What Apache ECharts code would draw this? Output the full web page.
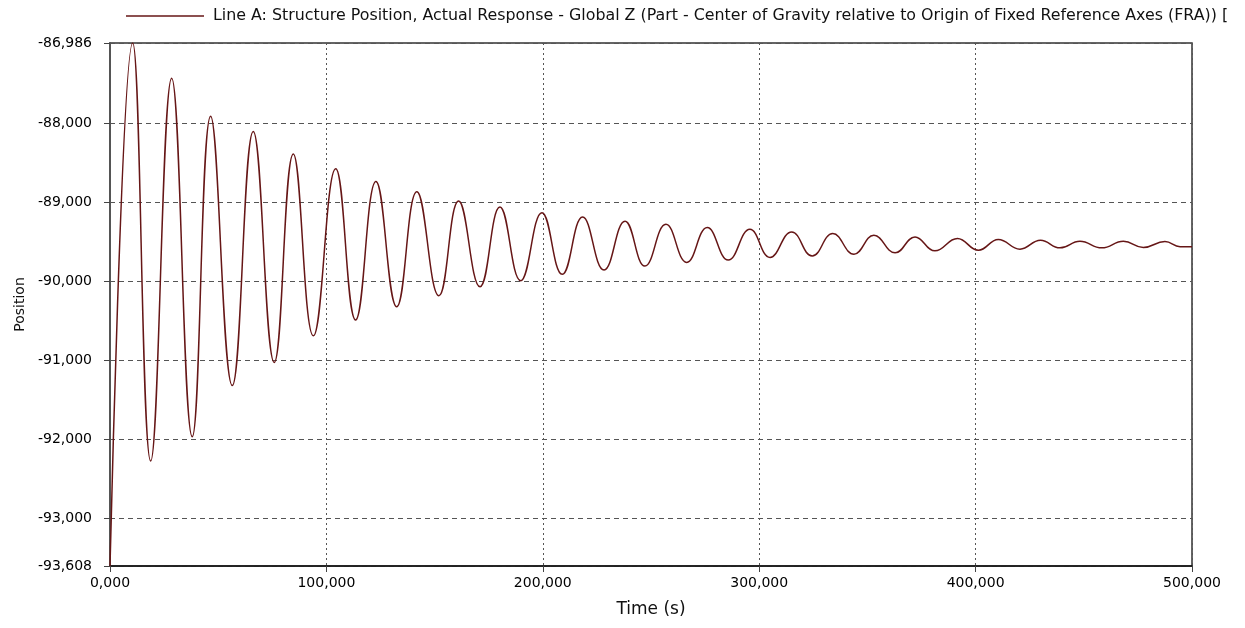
<!DOCTYPE html>
<html>
<head>
<meta charset="utf-8">
<script src="https://cdn.jsdelivr.net/npm/echarts@6/dist/echarts.min.js"></script>
<style>
  html, body { margin: 0; padding: 0; background: #ffffff; }
  #chart { width: 1245px; height: 628px; }
</style>
</head>
<body>
<div id="chart"></div>
<script>
// Time samples (s) at each crest, trough and end point of the response
const times = [
  0, 10.5, 18.8, 28.5, 38.0, 46.5, 56.5, 66.2, 75.9, 84.7,
  94.0, 104.3, 113.5, 122.9, 132.5, 141.8, 152.0, 161.1, 171.0, 180.2,
  189.8, 199.6, 209.0, 218.4, 228.3, 238.0, 247.2, 256.9, 266.5, 276.0,
  285.7, 295.7, 305.0, 315.0, 324.5, 334.0, 343.8, 353.0, 362.8, 372.0,
  381.2, 391.6, 401.3, 410.5, 420.5, 430.0, 439.0, 448.2, 458.3, 468.3,
  477.5, 487.5, 494.5, 500.0
];
// Global Z position of the centre of gravity at those times
const positions = [
  -93.608, -86.986, -92.279, -87.431, -91.971, -87.915, -91.324, -88.105, -91.030, -88.390,
  -90.694, -88.579, -90.492, -88.739, -90.324, -88.868, -90.185, -88.987, -90.072, -89.063,
  -89.996, -89.134, -89.915, -89.189, -89.861, -89.243, -89.811, -89.281, -89.764, -89.323,
  -89.735, -89.344, -89.701, -89.378, -89.683, -89.399, -89.660, -89.420, -89.643, -89.441,
  -89.618, -89.462, -89.609, -89.474, -89.596, -89.483, -89.580, -89.496, -89.580, -89.496,
  -89.575, -89.500, -89.565, -89.567
];
// Y-axis tick values, including the range end points
const yTicks = [-93.608, -93, -92, -91, -90, -89, -88, -86.986];
// X-axis tick values (s)
const xTicks = [0, 100, 200, 300, 400, 500];

const seriesName = 'Line A: Structure Position, Actual Response - Global Z (Part - Center of Gravity relative to Origin of Fixed Reference Axes (FRA)) [';
const lineColor = '#661616';
const font = 'DejaVu Sans';
const fmt = v => Number(v).toFixed(3).replace('.', ',');

const chart = echarts.init(document.getElementById('chart'), null, { renderer: 'canvas' });

chart.setOption({
  animation: false,
  backgroundColor: '#ffffff',
  textStyle: { fontFamily: font },
  legend: {
    left: 126,
    top: 8,
    padding: 0,
    icon: 'rect',
    itemWidth: 78,
    itemHeight: 1.5,
    itemGap: 0,
    selectedMode: false,
    textStyle: { fontFamily: font, fontSize: 15.85, color: '#111', padding: [0, 0, 0, 4] },
    data: [{ name: seriesName, itemStyle: { color: lineColor } }]
  },
  grid: {
    left: 110, right: 53, top: 43, bottom: 62,
    show: true, borderColor: '#333', borderWidth: 1.5, backgroundColor: 'transparent'
  },
  xAxis: {
    type: 'value',
    min: 0, max: 500, interval: 100,
    name: 'Time (s)',
    nameLocation: 'middle',
    nameGap: 35,
    nameTextStyle: { fontFamily: font, fontSize: 17, color: '#111' },
    axisLine: { show: true, lineStyle: { color: '#111', width: 1.5 } },
    axisTick: { show: true, length: 6, lineStyle: { color: '#444' }, customValues: xTicks },
    axisLabel: { fontFamily: font, fontSize: 14, color: '#000', margin: 10, formatter: fmt, customValues: xTicks },
    splitLine: { show: true, lineStyle: { color: '#555', type: [2, 3], width: 1 } }
  },
  yAxis: {
    type: 'value',
    min: -93.608, max: -86.986,
    name: 'Position',
    nameLocation: 'middle',
    nameGap: 80,
    nameTextStyle: { fontFamily: font, fontSize: 14, color: '#111' },
    axisLine: { show: true, lineStyle: { color: '#555', width: 2 } },
    axisTick: { show: true, length: 6, lineStyle: { color: '#444' }, customValues: yTicks },
    axisLabel: { fontFamily: font, fontSize: 14, color: '#000', margin: 18, formatter: fmt, customValues: yTicks },
    splitLine: { show: true, lineStyle: { color: '#555', type: [5, 4], width: 1 } }
  },
  series: [{
    name: seriesName,
    type: 'line',
    data: times.map((t, i) => [t, positions[i]]),
    smooth: 0.45,
    symbol: 'none',
    clip: true,
    lineStyle: { color: lineColor, width: 1.5 },
    itemStyle: { color: lineColor }
  }]
});
</script>
</body>
</html>
